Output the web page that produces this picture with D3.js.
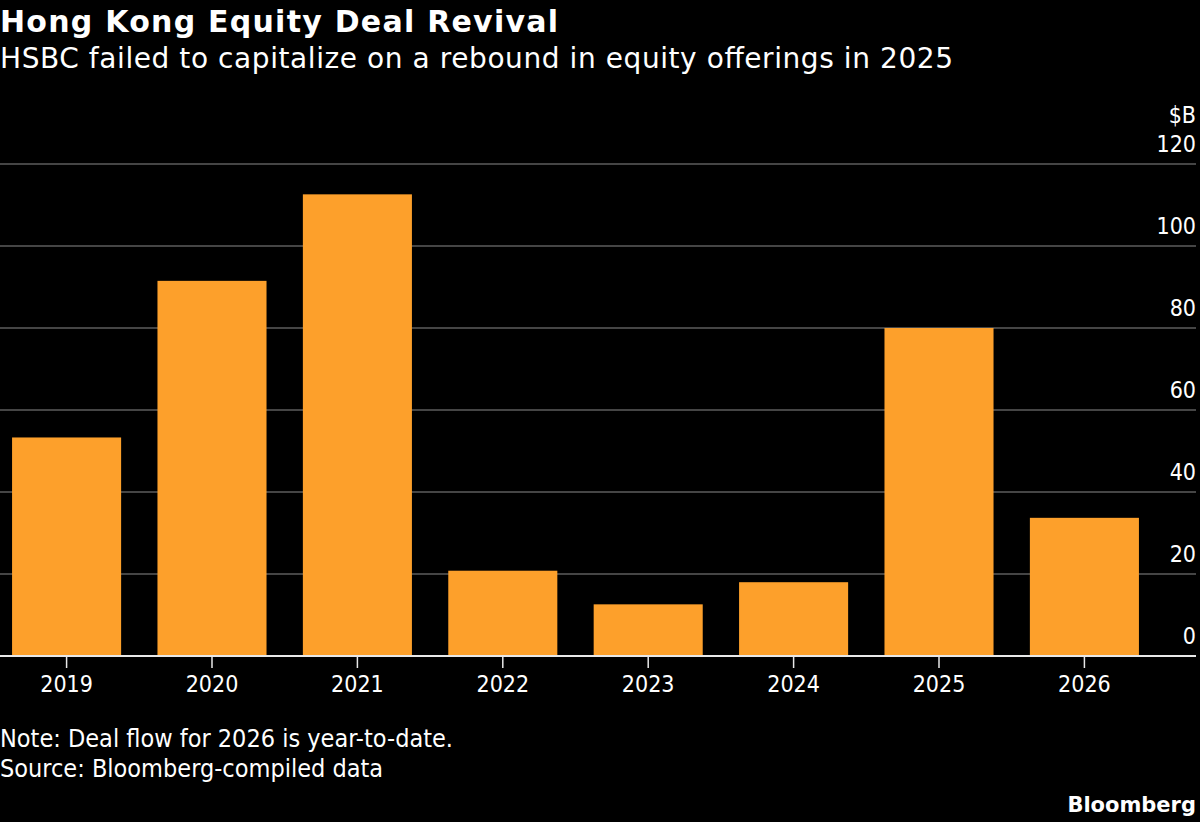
<!DOCTYPE html>
<html>
<head>
<meta charset="utf-8">
<script src="https://cdn.jsdelivr.net/npm/d3@7"></script>
<style>
  html, body { margin: 0; padding: 0; background: #000; }
  svg { display: block; }
  text { font-family: "DejaVu Sans Condensed", "DejaVu Sans", "Noto Sans", sans-serif; fill: #fff; }
  .head { font-family: "DejaVu Sans", "Noto Sans", sans-serif; }
</style>
</head>
<body>
<svg id="chart" width="1200" height="822"></svg>
<script>
// values in billions of dollars
var years = ['2019', '2020', '2021', '2022', '2023', '2024', '2025', '2026'];
var dealValues = [53.3, 91.5, 112.6, 20.8, 12.6, 18.0, 80.0, 33.7];
var yTicks = [0, 20, 40, 60, 80, 100, 120];

var svg = d3.select('#chart');
var right = 1196;

var x = d3.scaleBand()
  .domain(years)
  .range([0, 1151])
  .paddingInner(0.25)
  .paddingOuter(0.083);

var y = d3.scaleLinear()
  .domain([0, 120])
  .range([656, 164]);

// header, stretched to the widths measured on the original
svg.append('text')
  .attr('class', 'head')
  .attr('x', 0).attr('y', 32)
  .attr('textLength', 558)
  .attr('lengthAdjust', 'spacing')
  .style('font-size', '30px')
  .style('font-weight', 'bold')
  .text('Hong Kong Equity Deal Revival');

svg.append('text')
  .attr('class', 'head')
  .attr('x', 0).attr('y', 68)
  .attr('textLength', 953)
  .attr('lengthAdjust', 'spacing')
  .style('font-size', '28px')
  .text('HSBC failed to capitalize on a rebound in equity offerings in 2025');

// gridlines
svg.append('g')
  .selectAll('line')
  .data(yTicks.slice(1))
  .enter()
  .append('line')
  .attr('x1', 0)
  .attr('x2', right)
  .attr('y1', d => y(d))
  .attr('y2', d => y(d))
  .style('stroke', '#5c5c5c')
  .style('stroke-width', 1.5);

// y labels sit above their gridline at the right edge
svg.append('g')
  .selectAll('text')
  .data(yTicks)
  .enter()
  .append('text')
  .attr('x', right)
  .attr('y', d => y(d) - 12.5)
  .attr('text-anchor', 'end')
  .style('font-size', '23px')
  .text(d => d);

svg.append('text')
  .attr('x', right)
  .attr('y', y(120) - 41.5)
  .attr('text-anchor', 'end')
  .style('font-size', '23px')
  .text('$B');

// bars
svg.append('g')
  .selectAll('rect')
  .data(years)
  .enter()
  .append('rect')
  .attr('x', d => x(d))
  .attr('width', x.bandwidth())
  .attr('y', (d, i) => y(dealValues[i]))
  .attr('height', (d, i) => y(0) - y(dealValues[i]))
  .style('fill', '#fda02b');

// x axis
var xAxis = svg.append('g')
  .attr('transform', `translate(0,${y(0)})`);

xAxis.append('line')
  .attr('x1', 0)
  .attr('x2', right)
  .style('stroke', '#e8e8e8')
  .style('stroke-width', 2);

xAxis.selectAll('line.tick')
  .data(years)
  .enter()
  .append('line')
  .attr('class', 'tick')
  .attr('x1', d => x(d) + x.bandwidth() / 2)
  .attr('x2', d => x(d) + x.bandwidth() / 2)
  .attr('y1', 0)
  .attr('y2', 12)
  .style('stroke', '#e8e8e8')
  .style('stroke-width', 1.5);

xAxis.selectAll('text')
  .data(years)
  .enter()
  .append('text')
  .attr('x', d => x(d) + x.bandwidth() / 2)
  .attr('y', 36)
  .attr('text-anchor', 'middle')
  .style('font-size', '23px')
  .text(d => d);

// footer
svg.append('text')
  .attr('x', 0).attr('y', 747)
  .style('font-size', '25px')
  .text('Note: Deal flow for 2026 is year-to-date.');

svg.append('text')
  .attr('x', 0).attr('y', 777)
  .style('font-size', '25px')
  .text('Source: Bloomberg-compiled data');

svg.append('text')
  .attr('class', 'head')
  .attr('x', right).attr('y', 812)
  .attr('text-anchor', 'end')
  .style('font-size', '21px')
  .style('font-weight', 'bold')
  .text('Bloomberg');
</script>
</body>
</html>
